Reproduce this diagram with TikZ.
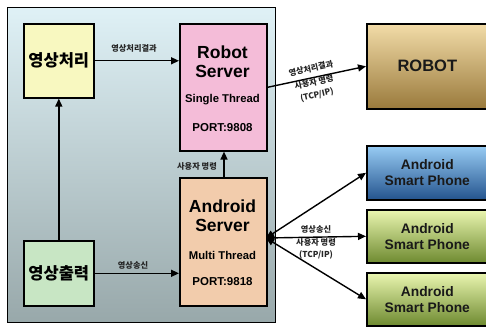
\documentclass[tikz,border=0pt]{standalone}
\usepackage{fontspec}
\setmainfont{Liberation Sans}
\newfontfamily\kr{Noto Sans CJK KR}
\usetikzlibrary{arrows.meta}
\definecolor{outtop}{HTML}{DFF1F6}
\definecolor{outbot}{HTML}{98A8AA}
\definecolor{yel}{HTML}{F8F8C0}
\definecolor{pnk}{HTML}{F4BCD8}
\definecolor{pch}{HTML}{F2CCAC}
\definecolor{grn}{HTML}{C8E6C4}
\definecolor{robtop}{HTML}{F2DCA8}
\definecolor{robbot}{HTML}{9A7A3C}
\definecolor{blutop}{HTML}{98CCF4}
\definecolor{blubot}{HTML}{24548E}
\definecolor{grntop}{HTML}{EAF6B0}
\definecolor{grnbot}{HTML}{6E8A30}
\tikzset{
  box/.style={draw=black, line width=1.6pt, inner sep=0pt, anchor=north west},
  lbl/.style={font=\kr\bfseries\fontsize{8.2}{9}\selectfont, inner sep=0pt, align=center, text=black!85},
  arr/.style={line width=1.4pt, -{Triangle[length=8pt,width=7pt]}},
  darr/.style={line width=1.4pt, {Triangle[length=8pt,width=7pt]}-{Triangle[length=8pt,width=7pt]}},
}
\begin{document}
\begin{tikzpicture}[x=1pt,y=-1pt]
\useasboundingbox (0,0) rectangle (486,326);
\fill[white] (0,0) rectangle (486,326);
% outer container
\node[box, line width=1.2pt, minimum width=268pt, minimum height=315pt, top color=outtop, bottom color=outbot] (outer) at (7,7) {};
% inner boxes
\node[box, fill=yel, minimum width=70pt, minimum height=74pt, font=\kr\bfseries\fontsize{16.5}{18}\selectfont] (proc) at (23,23) {영상처리};
\node[box, fill=grn, minimum width=70pt, minimum height=65pt, font=\kr\bfseries\fontsize{16.5}{18}\selectfont] (outp) at (23,240) {영상출력};
\node[box, fill=pnk, minimum width=87pt, minimum height=127pt] (rs) at (179,23) {};
\node[box, fill=pch, minimum width=87pt, minimum height=128pt] (as) at (179,177) {};
% robot server texts
\node[font=\bfseries\fontsize{17.5}{20}\selectfont, align=center] (rst) at (222.5,62) {Robot\\[-1pt]Server};
\node[font=\bfseries\fontsize{11.3}{13}\selectfont] (rss) at (222.5,100) {Single Thread};
\node[font=\bfseries\fontsize{11.5}{13}\selectfont] (rsp) at (222.5,128) {PORT:9808};
% android server texts
\node[font=\bfseries\fontsize{17.5}{20}\selectfont, align=center] (ast) at (222.5,216) {Android\\[-1pt]Server};
\node[font=\bfseries\fontsize{11.3}{13}\selectfont] (ass) at (222.5,255) {Multi Thread};
\node[font=\bfseries\fontsize{11.5}{13}\selectfont] (asp) at (222.5,282) {PORT:9818};
% right side boxes
\node[box, minimum width=121pt, minimum height=85pt, top color=robtop, bottom color=robbot, font=\bfseries\fontsize{16.5}{19}\selectfont, text=black!90] (robot) at (366,23) {ROBOT};
\node[box, minimum width=121pt, minimum height=54pt, top color=blutop, bottom color=blubot, font=\bfseries\fontsize{13.8}{16}\selectfont, align=center, text=black!90] (p1) at (366,145) {Android\\Smart Phone};
\node[box, minimum width=121pt, minimum height=53pt, top color=grntop, bottom color=grnbot, font=\bfseries\fontsize{13.8}{16}\selectfont, align=center, text=black!90] (p2) at (366,209) {Android\\Smart Phone};
\node[box, minimum width=121pt, minimum height=53pt, top color=grntop, bottom color=grnbot, font=\bfseries\fontsize{13.8}{16}\selectfont, align=center, text=black!90] (p3) at (366,272) {Android\\Smart Phone};
% connectors
\draw[arr] (proc.east) -- (rs.west |- proc.east);
\node[lbl] (l1) at (134,48) {영상처리결과};
\draw[arr] (outp.east) -- (as.west |- outp.east);
\node[lbl] (l2) at (133,265) {영상송신};
\draw[arr] (outp.north) -- (proc.south);
\draw[arr] (as.north -| 224,0) -- (rs.south -| 224,0);
\node[lbl] (l3) at (197,166) {사용자 명령};
\draw[arr] (rs.east) -- (robot.west);
\node[lbl, rotate=12.7] (l4) at (314,82) {영상처리결과\\[5pt]사용자 명령\\[4pt](TCP/IP)};
\coordinate (hub) at (266,238);
\draw[darr] (hub) -- (p1.west);
\draw[darr] (hub) -- (p2.west);
\draw[darr] (hub) -- (p3.west);
\node[lbl] (l5) at (316,242) {영상송신\\[4pt]사용자 명령\\[3pt](TCP/IP)};
\end{tikzpicture}
\end{document}
